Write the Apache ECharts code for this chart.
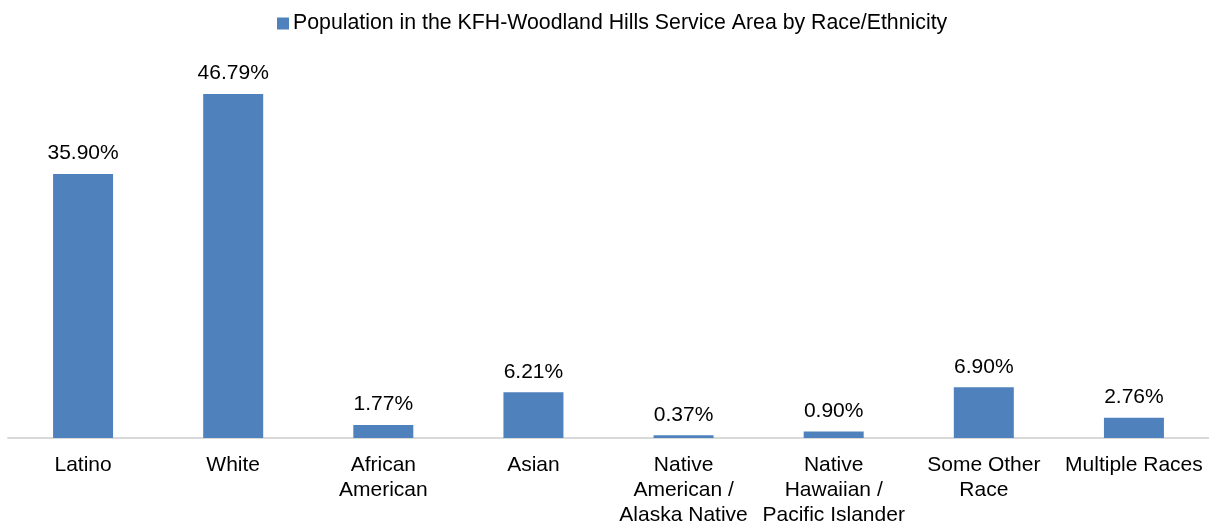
<!DOCTYPE html>
<html>
<head>
<meta charset="utf-8">
<script src="https://cdn.jsdelivr.net/npm/echarts@6/dist/echarts.min.js"></script>
<style>
html,body{margin:0;padding:0;background:#fff;}
#chart{width:1209px;height:523px;}
</style>
</head>
<body>
<div id="chart"></div>
<script>
const seriesName = 'Population in the KFH-Woodland Hills Service Area by Race/Ethnicity';
const categories = ['Latino', 'White', 'African\nAmerican', 'Asian', 'Native\nAmerican /\nAlaska Native', 'Native\nHawaiian /\nPacific Islander', 'Some Other\nRace', 'Multiple Races'];
const values = [35.90, 46.79, 1.77, 6.21, 0.37, 0.90, 6.90, 2.76];

const chart = echarts.init(document.getElementById('chart'));
chart.setOption({
  animation: false,
  textStyle: { fontFamily: 'Liberation Sans, Arial, sans-serif' },
  legend: {
    data: [seriesName],
    left: 272,
    top: 8,
    itemWidth: 12,
    itemHeight: 12,
    itemGap: 5,
    icon: 'rect',
    textStyle: { fontSize: 21.3, color: '#000', padding: [0, 0, 0, -1] }
  },
  grid: { left: 8, right: 0, top: 70.35, bottom: 85, containLabel: false, outerBoundsMode: 'none' },
  xAxis: {
    type: 'category',
    data: categories,
    axisLine: { lineStyle: { color: '#d9d9d9', width: 2 } },
    axisTick: { show: false },
    axisLabel: { interval: 0, fontSize: 21, color: '#000', lineHeight: 25, margin: 15 }
  },
  yAxis: {
    type: 'value',
    min: 0,
    max: 50,
    show: false,
    splitLine: { show: false }
  },
  series: [{
    name: seriesName,
    type: 'bar',
    data: values,
    barWidth: 60,
    itemStyle: { color: '#4f81bd' },
    label: {
      show: true,
      position: 'top',
      distance: 10,
      fontSize: 21,
      color: '#000',
      formatter: p => p.value.toFixed(2) + '%'
    }
  }]
});
</script>
</body>
</html>
